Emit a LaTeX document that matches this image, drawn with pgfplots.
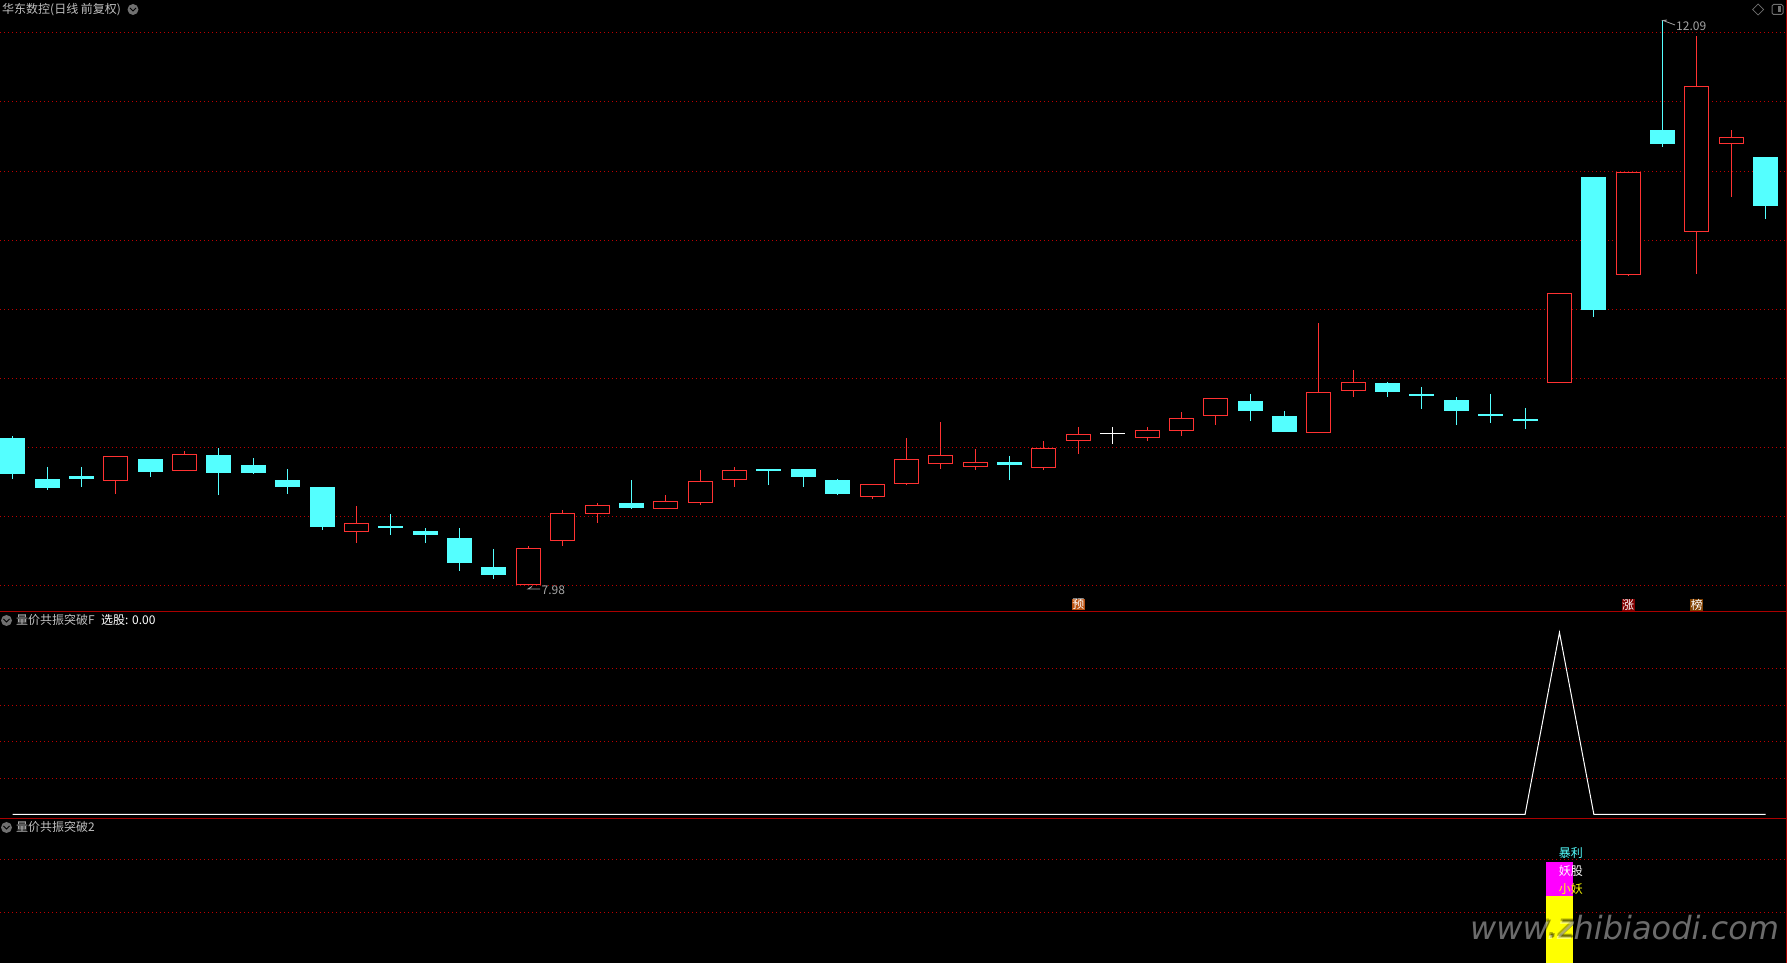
\documentclass[border=0pt]{standalone}
\usepackage{fontspec}
\usepackage{pgfplots}
\usepackage{pgfplotstable}
\pgfplotsset{compat=1.18}
\usepgfplotslibrary{statistics}
\setmainfont{Noto Sans CJK SC}
\newfontfamily\wmfont{DejaVu Sans}

\definecolor{candleup}{RGB}{255,50,50}
\definecolor{candledown}{RGB}{84,255,255}
\definecolor{griddot}{RGB}{190,0,0}
\definecolor{panelrule}{RGB}{170,0,0}
\definecolor{titlegray}{RGB}{192,192,192}
\definecolor{pricegray}{RGB}{165,165,165}
\definecolor{icongray}{RGB}{112,112,112}
\definecolor{stickmag}{RGB}{255,0,255}
\definecolor{stickyel}{RGB}{255,255,0}

% k: r hollow red, c solid cyan, w white doji
\pgfplotstableread{
i  k top    bot    hi     lo
0  c 9.047  8.795  9.065  8.755
1  c 8.749  8.693  8.840  8.675
2  c 8.770  8.757  8.840  8.697
3  r 8.914  8.744  8.914  8.646
4  c 8.894  8.810  8.894  8.769
5  r 8.928  8.817  8.956  8.817
6  c 8.923  8.802  8.978  8.636
7  c 8.850  8.802  8.905  8.791
8  c 8.741  8.701  8.825  8.646
9  c 8.691  8.410  8.691  8.384
10 r 8.427  8.374  8.556  8.287
11 c 8.404  8.399  8.498  8.348
12 c 8.371  8.352  8.396  8.287
13 c 8.320  8.148  8.396  8.086
14 c 8.109  8.061  8.244  8.028
15 r 8.245  7.984  8.266  7.984
16 r 8.499  8.304  8.527  8.268
17 r 8.557  8.500  8.578  8.435
18 c 8.574  8.546  8.745  8.535
19 r 8.587  8.541  8.636  8.541
20 r 8.732  8.584  8.818  8.564
21 r 8.812  8.752  8.840  8.697
22 c 8.825  8.818  8.825  8.709
23 c 8.821  8.771  8.821  8.695
24 c 8.741  8.648  8.753  8.636
25 r 8.710  8.628  8.710  8.607
26 r 8.892  8.723  9.051  8.709
27 r 8.921  8.868  9.167  8.828
28 r 8.870  8.846  8.971  8.820
29 c 8.872  8.858  8.920  8.745
30 r 8.972  8.839  9.029  8.820
31 r 9.074  9.035  9.131  8.937
32 w 9.087  9.082  9.131  9.007
33 r 9.103  9.057  9.131  9.031
34 r 9.190  9.108  9.240  9.067
35 r 9.335  9.217  9.335  9.145
36 c 9.316  9.251  9.371  9.174
37 c 9.207  9.098  9.247  9.098
38 r 9.379  9.093  9.887  9.093
39 r 9.452  9.399  9.545  9.349
40 c 9.447  9.389  9.458  9.349
41 c 9.365  9.360  9.422  9.262
42 c 9.323  9.251  9.349  9.145
43 c 9.218  9.211  9.371  9.160
44 c 9.185  9.178  9.269  9.116
45 r 10.099 9.457  10.099 9.457
46 c 10.944 9.985  10.944 9.933
47 r 10.978 10.242 10.978 10.228
48 c 11.286 11.192 12.090 11.169
49 r 11.604 10.555 11.973 10.243
50 r 11.233 11.194 11.290 10.803
51 c 11.090 10.744 11.090 10.645
}\candles

\pgfplotsset{
  panel/.style={
    scale only axis, width=1787pt, anchor=south west,
    xmin=-0.37, xmax=51.62, xtick=\empty,
    axis line style={draw=none}, tick style={draw=none},
    yticklabels={}, ymajorgrids=true,
    grid style={griddot, line width=0.8pt, dash pattern=on 1pt off 3pt},
  },
  candle r/.style={draw=candleup, fill=black, line width=1pt},
  candle c/.style={draw=candledown, fill=candledown, line width=1pt},
  candle w/.style={draw=white, fill=white, line width=1pt},
  boxplot/draw direction=y,
  boxplot/box extend=0.698,
  boxplot/whisker extend=0,
}

\newcommand{\labfont}{\fontsize{12}{14}\selectfont}
% picture is laid out 1px = 1pt, y measured from the top like the screenshot
\def\P#1#2{(#1pt,{(963-#2)*1pt})}
\newcommand{\chevron}[2]{%
  \fill[icongray] \P{#1}{#2} circle (5.5pt);
  \draw[black, line width=1pt] \P{#1-3}{#2-1.5+3} -- \P{#1}{#2+1.5-3} -- \P{#1+3}{#2-1.5+3};
}

\begin{document}
\begin{tikzpicture}
\path[use as bounding box, fill=black] (0,0) rectangle (1787pt,963pt);

% price panel
\begin{axis}[panel, at={(0,351.7pt)}, height=611.3pt,
    ymin=7.791, ymax=12.235,
    ytick={7.980,8.482,8.983,9.485,9.986,10.488,10.992,11.497,11.999}]
\pgfplotsinvokeforeach{0,...,51}{
  \pgfplotstablegetelem{#1}{k}\of\candles \let\ck\pgfplotsretval
  \pgfplotstablegetelem{#1}{top}\of\candles \let\ctop\pgfplotsretval
  \pgfplotstablegetelem{#1}{bot}\of\candles \let\cbot\pgfplotsretval
  \pgfplotstablegetelem{#1}{hi}\of\candles \let\chigh\pgfplotsretval
  \pgfplotstablegetelem{#1}{lo}\of\candles \let\clow\pgfplotsretval
  \edef\temp{\noexpand\addplot[candle \ck, boxplot prepared={draw position=#1,
      lower whisker=\clow, lower quartile=\cbot, median=\cbot,
      upper quartile=\ctop, upper whisker=\chigh}] coordinates {};}
  \temp
}
\node[fill={rgb,255:red,184;green,80;blue,16}, text=white, inner sep=0.5pt, font=\fontsize{12}{12}\selectfont] at (axis cs:31,7.839) {预};
\node[fill={rgb,255:red,128;green,0;blue,0}, text=white, inner sep=0.5pt, font=\fontsize{12}{12}\selectfont] at (axis cs:47,7.839) {涨};
\node[fill={rgb,255:red,128;green,64;blue,0}, text=white, inner sep=0.5pt, font=\fontsize{12}{12}\selectfont] at (axis cs:49,7.839) {榜};
\end{axis}

% signal panel
\begin{axis}[panel, at={(0,144.7pt)}, height=207pt,
    ymin=-0.022, ymax=1.1166, ytick={0.2,0.4,0.6,0.8}]
\addplot[white, line width=1pt] coordinates {(0,0) (44,0) (45,1) (46,0) (51,0)};
\end{axis}

% stick panel
\begin{axis}[panel, at={(0,0)}, height=144.7pt,
    ymin=0.058, ymax=2.768, ytick={1,2}]
\addplot[ybar, bar shift=0pt, bar width=27pt, fill=stickmag, draw=none] coordinates {(45,1.95)};
\addplot[ybar, bar shift=0pt, bar width=27pt, fill=stickyel, draw=none] coordinates {(45,1.31)};
\node[text=candledown, font=\labfont] at (axis cs:45.33,2.11) {暴利};
\node[text=white, font=\labfont] at (axis cs:45.33,1.79) {妖股};
\node[text=stickyel, font=\labfont] at (axis cs:45.33,1.45) {小妖};
\end{axis}

% panel rules
\draw[panelrule, line width=1pt] \P{0}{611.3} -- \P{1787}{611.3};
\draw[panelrule, line width=1pt] \P{0}{818.3} -- \P{1787}{818.3};
\draw[panelrule, line width=1pt] \P{1786}{0} -- \P{1786}{963};

% captions
\node[anchor=west, inner sep=0, text=titlegray, font=\labfont] at \P{2}{10} {华东数控(日线 前复权)};
\chevron{133}{9.5}
\chevron{6.5}{620.5}
\node[anchor=west, inner sep=0, text=titlegray, font=\labfont] at \P{16}{620} {量价共振突破F};
\node[anchor=west, inner sep=0, text=white, font=\labfont] at \P{101}{620} {选股: 0.00};
\chevron{6.5}{827.5}
\node[anchor=west, inner sep=0, text=titlegray, font=\labfont] at \P{16}{827} {量价共振突破2};

% extreme price notes
\draw[pricegray, line width=0.8pt] \P{540}{589} -- \P{528}{589} -- \P{532}{586.5};
\node[anchor=west, inner sep=0, text=pricegray, font=\labfont] at \P{541.5}{590} {7.98};
\draw[pricegray, line width=0.8pt] \P{1675}{25} -- \P{1663}{20.5} -- \P{1667}{20};
\node[anchor=west, inner sep=0, text=pricegray, font=\labfont] at \P{1676}{26} {12.09};

% window icons
\draw[icongray, line width=0.7pt] \P{1758}{4} -- \P{1763.5}{9.5} -- \P{1758}{15} -- \P{1752.5}{9.5} -- cycle;
\draw[icongray, line width=1pt, rounded corners=1.5pt] \P{1772}{4.5} rectangle \P{1783}{14.5};
\fill[icongray] \P{1777.5}{6.5} rectangle \P{1781}{12.5};

% watermark
\foreach \dx/\dy in {1.5/1.5,2.5/2.5,0.5/3}{
  \node[anchor=west, inner sep=0, text=black, text opacity=0.3, font=\wmfont\itshape\fontsize{32}{32}\selectfont]
    at \P{1470+\dx}{928+\dy} {www.zhibiaodi.com};
}
\node[anchor=west, inner sep=0, text=white, text opacity=0.42, font=\wmfont\itshape\fontsize{32}{32}\selectfont]
  at \P{1470}{928} {www.zhibiaodi.com};
\end{tikzpicture}
\end{document}
